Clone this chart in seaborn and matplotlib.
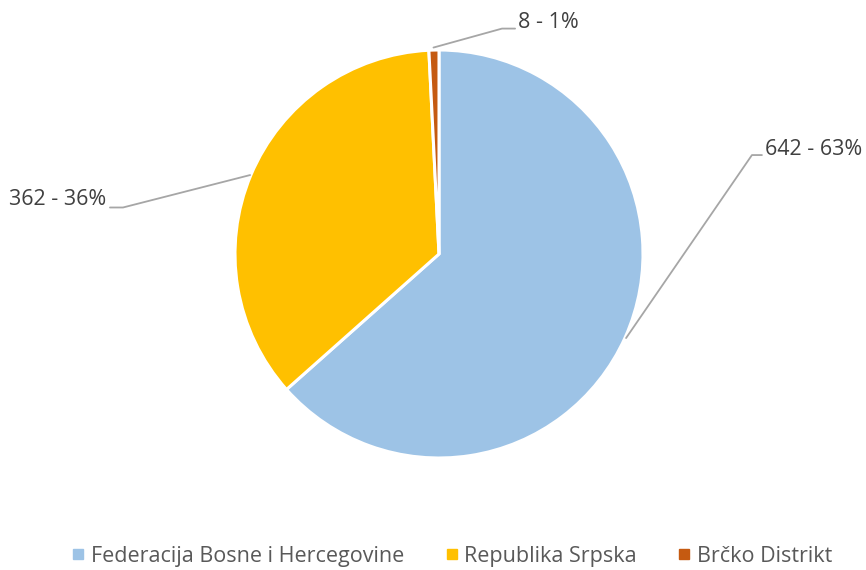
import seaborn as sns
import matplotlib.pyplot as plt
from matplotlib.lines import Line2D

# podaci
regije = ['Federacija Bosne i Hercegovine', 'Republika Srpska', 'Brčko Distrikt']
vrijednosti = [642, 362, 8]
boje = ['#9DC3E6', '#FFC000', '#C55A11']

sns.set_theme(style="white")
plt.rcParams['font.family'] = ['Open Sans', 'DejaVu Sans']

fig = plt.figure(figsize=(8.66, 5.70), dpi=100)
# pie centre (439,254) px, radius 204 px
ax = fig.add_axes([(439 - 204) / 866, (570 - 254 - 204) / 570, 408 / 866, 408 / 570])
wedges, _ = ax.pie(vrijednosti, colors=sns.color_palette(boje), startangle=90, counterclock=False,
                   radius=1, wedgeprops=dict(edgecolor='white', linewidth=2.2))
ax.set_xlim(-1, 1)
ax.set_ylim(-1, 1)
ax.axis('off')

ukupno = sum(vrijednosti)
oznake = [f"{v} - {round(v / ukupno * 100)}%" for v in vrijednosti]

# leader lines: (start on edge, elbow, end), text position, alignment
linije = [
    ([(0.917, -0.412), (1.534, 0.485), (1.583, 0.485)], (1.60, 0.51), 'left'),
    ([(-0.926, 0.387), (-1.549, 0.228), (-1.613, 0.228)], (-1.63, 0.265), 'right'),
    ([(-0.027, 1.012), (0.309, 1.105), (0.373, 1.105)], (0.385, 1.135), 'left'),
]
for tekst, (tocke, pos, ha) in zip(oznake, linije):
    xs = [p[0] for p in tocke]
    ys = [p[1] for p in tocke]
    ax.add_line(Line2D(xs, ys, color='#A6A6A6', lw=1.3, clip_on=False))
    ax.text(pos[0], pos[1], tekst, ha=ha, va='center', fontsize=15.5, color='#404040', clip_on=False)

handles = [Line2D([], [], marker='s', linestyle='none', markersize=7, color=c) for c in boje]
fig.legend(handles, regije, loc='center', bbox_to_anchor=(0.522, 0.024), ncol=3, frameon=False,
           fontsize=15.5, labelcolor='#595959', handletextpad=0.3, columnspacing=1.9, handlelength=0.6)

fig.savefig('out.png', dpi=100)
